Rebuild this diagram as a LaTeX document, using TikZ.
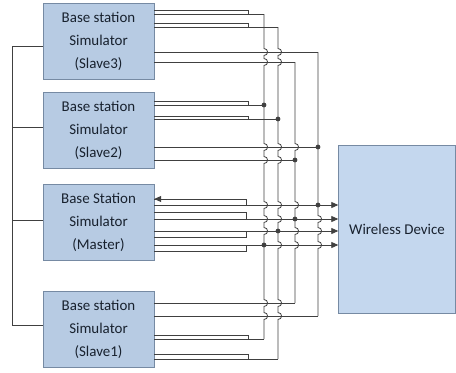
\documentclass[tikz,border=0pt]{standalone}
\usepackage{fontspec}
\setmainfont{Carlito}
\usetikzlibrary{arrows.meta}
\definecolor{stationfill}{HTML}{B7CBE3}
\definecolor{stationline}{HTML}{768AA3}
\definecolor{devicefill}{HTML}{C4D7EE}
\definecolor{wiregray}{HTML}{404040}
\definecolor{labelink}{HTML}{18212E}
\begin{document}
\begin{tikzpicture}[x=1bp, y=-1bp]
	\tikzstyle{station} = [rectangle, draw=stationline, fill=stationfill, minimum width=111bp, minimum height=76bp, inner sep=0pt, align=center, text=labelink, font=\fontsize{15}{23}\selectfont]
	\tikzstyle{wire} = [draw=wiregray, line width=0.8bp]
	\tikzstyle{headed} = [-{Triangle[length=7bp, width=6bp]}]

	\useasboundingbox (0,0) rectangle (456,372);
%	\draw[gray!30] (0,0) grid[xstep=10, ystep=10] (456,372);

	\node[station] (s3) at (98.5, 41) {Base station\\Simulator\\(Slave3)};
	\node[station] (s2) at (98.5, 130) {Base station\\Simulator\\(Slave2)};
	\node[station] (ms) at (98.5, 222) {Base Station\\Simulator\\(Master)};
	\node[station] (s1) at (98.5, 329.5) {Base station\\Simulator\\(Slave1)};
	\node[station, fill=devicefill, minimum width=117bp, minimum height=168bp] (wd) at (397, 229) {Wireless Device};

	% common line on the left
	\coordinate (b3) at (12, 46);
	\coordinate (b2) at (12, 127);
	\coordinate (bm) at (12, 220);
	\coordinate (b1) at (12, 325);
	\draw[wire] (s3.west |- b3) -- (b3) -- (b1) -- (s1.west |- b1);
	\draw[wire] (s2.west |- b2) -- (b2);
	\draw[wire] (ms.west |- bm) -- (bm);

	% slave cable pairs
	\foreach \stn/\ya/\yb/\vx in {s3/10/14/264, s3/23/27/278, s2/101/105/264, s2/116/119/278, s1/335/339/264, s1/354/359/278}
		\draw[wire] (\stn.east |- 0,\ya) -- (248,\ya) -- (248,\yb) -- (\stn.east |- 0,\yb) (248,\yb) -- (\vx,\yb);

	% slave single lines
	\foreach \stn/\y/\vx in {s3/52/318, s3/62/295, s2/147/318, s2/160/295, s1/303/295, s1/316/318}
		\draw[wire] (\stn.east |- 0,\y) -- (\vx,\y);

	% master to device
	\foreach \ya/\yb/\yc in {199/205/205, 212/219/219, 231/237/231, 245/251/245} {
		\draw[wire] (ms.east |- 0,\ya) -- (246,\ya) -- (246,\yb) -- (ms.east |- 0,\yb);
		\draw[wire, headed] (246,\yc) -- (wd.west |- 0,\yc);
	}
	\draw[wire, headed] (246,199) -- (ms.east |- 0,199);

	% vertical lines with hops
	\foreach \vx/\ytop/\ybot/\hops in {264/14/339/{52,62,147,160,205,219,231,303,316}, 278/27/359/{52,62,147,160,205,219,245,303,316}, 295/62/303/{147,205,231,245}, 318/52/316/{219,231,245}}
		\draw[wire] (\vx,\ytop) foreach \h in \hops {-- (\vx,\h-3.5) .. controls (\vx+4.7,\h-3.5) and (\vx+4.7,\h+3.5) .. (\vx,\h+3.5)} -- (\vx,\ybot);

	\foreach \vx/\y in {264/105, 264/245, 278/119, 278/231, 295/160, 295/219, 318/147, 318/205}
		\fill[wiregray] (\vx,\y) circle[radius=2.4];
\end{tikzpicture}
\end{document}
